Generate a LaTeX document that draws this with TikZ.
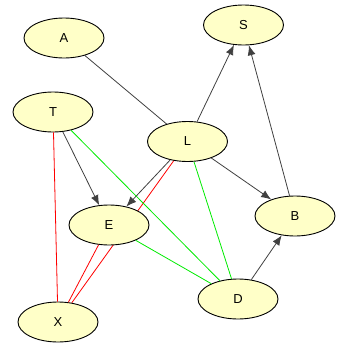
\documentclass[tikz,border=0pt]{standalone}
\usepackage{fontspec}
\setmainfont{Liberation Sans}
\usetikzlibrary{shapes.geometric,arrows.meta,backgrounds}
\definecolor{nodefill}{RGB}{255,255,200}
\definecolor{edgegray}{RGB}{64,64,64}
\definecolor{edgegreen}{RGB}{0,235,0}
\tikzset{
  vnode/.style={ellipse,draw=black,line width=0.9pt,fill=nodefill,minimum width=80pt,minimum height=40pt,inner sep=0pt,font=\fontsize{13}{15}\selectfont},
  plain/.style={draw=edgegray,line width=0.8pt},
  arr/.style={draw=edgegray,line width=0.8pt,-{Latex[length=10pt,width=8pt]}},
  redl/.style={draw=red,line width=0.8pt},
  greenl/.style={draw=edgegreen,line width=0.8pt}
}
\begin{document}
\begin{tikzpicture}[x=1pt,y=-1pt]
\useasboundingbox (0,0) rectangle (357,349);
\node[vnode] (A) at (64,38) {A};
\node[vnode] (S) at (243.5,25) {S};
\node[vnode] (T) at (53,112) {T};
\node[vnode] (L) at (187.5,141.5) {L};
\node[vnode] (E) at (109,225) {E};
\node[vnode] (B) at (295,216) {B};
\node[vnode] (D) at (238,299) {D};
\node[vnode] (X) at (58,322) {X};
\begin{pgfonlayer}{background}
\draw[plain] (A) -- (L);
\draw[redl] (L.center) -- (X);
\end{pgfonlayer}
\draw[arr] (L) -- (S);
\draw[arr] (B) -- (S);
\draw[arr] (T) -- (E);
\draw[arr] (L) -- (E);
\draw[arr] (L) -- (B);
\draw[arr] (D) -- (B);
\draw[redl] (T) -- (X);
\draw[redl] (E) -- (X);
\draw[greenl] (T) -- (D);
\draw[greenl] (L) -- (D);
\draw[greenl] (E) -- (D);
\end{tikzpicture}
\end{document}
